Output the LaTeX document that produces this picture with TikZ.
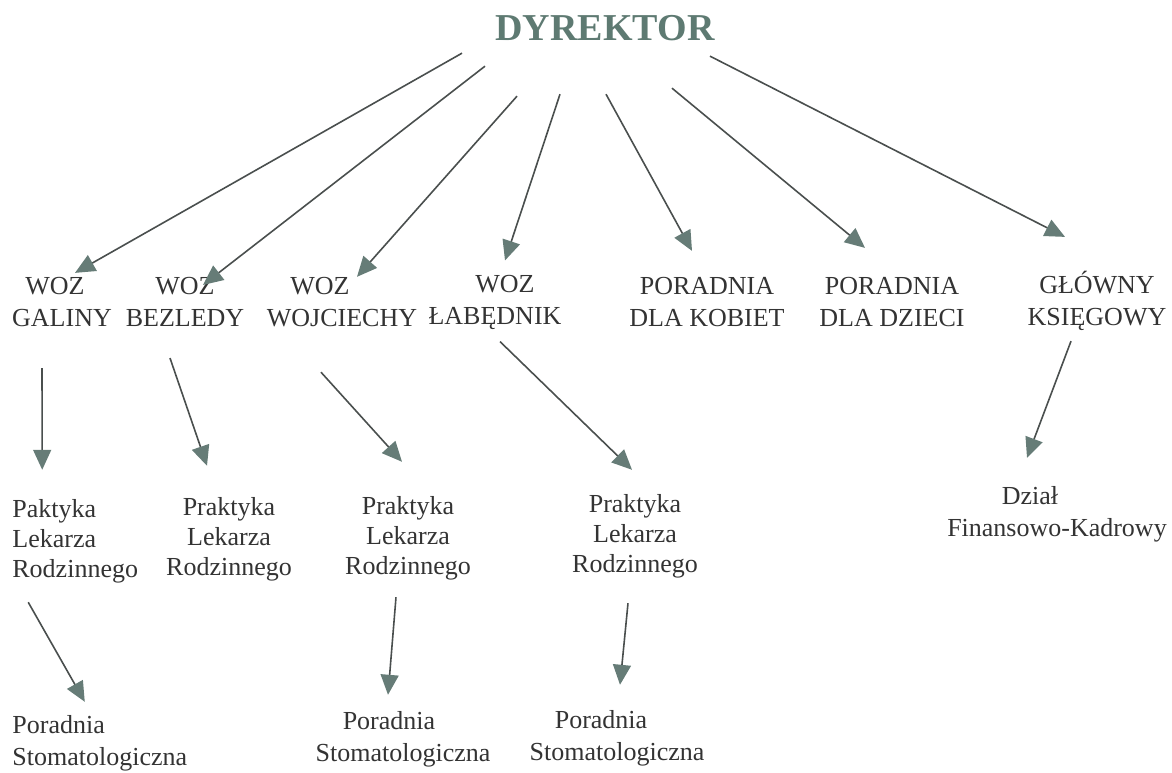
\documentclass[tikz,border=0pt]{standalone}
\usepackage{fontspec}
\setmainfont{Liberation Serif}
\usetikzlibrary{arrows.meta,positioning}
\definecolor{titlegray}{HTML}{5E7A72}
\definecolor{linegray}{HTML}{4A4F4E}
\definecolor{tipgray}{HTML}{667C77}
\definecolor{textgray}{HTML}{333333}
\begin{document}
\begin{tikzpicture}[
  x={(0.5pt,0)},y={(0,-0.5pt)},
  unit/.style={inner sep=0pt,align=center,text=textgray,
    font=\fontsize{13pt}{16pt}\selectfont},
  unitl/.style={unit,align=left,anchor=west},
  prak/.style={unit,font=\fontsize{13pt}{15pt}\selectfont},
  boss/.style={inner sep=0pt,text=titlegray,
    font=\fontsize{19pt}{22pt}\selectfont\bfseries},
  arr/.style={draw=linegray,line width=0.8pt,
    -{Triangle[length=10pt,width=9pt,color=tipgray,fill=tipgray]}}
]
  \useasboundingbox (0,0) rectangle (1172,772);

  \node[boss] (dyr) at (605,28) {DYREKTOR};

  \node[unit] (galiny) at (62,302) {\hbox{WOZ\kern7pt}\\GALINY};
  \node[unit] (bezledy) at (185,302) {WOZ\\BEZLEDY};
  \node[unit] (wojciechy) at (342,302) {\hbox{WOZ\kern22pt}\\WOJCIECHY};
  \node[unit] (labednik) at (495,302) {\hbox{\kern10pt WOZ}\\ŁABĘDNIK};
  \node[unit] (kobiet) at (707,302) {PORADNIA\\DLA KOBIET};
  \node[unit] (dzieci) at (892,302) {PORADNIA\\DLA DZIECI};
  \node[unit] (glowny) at (1097,301) {GŁÓWNY\\KSIĘGOWY};

  \node[prak,align=left,anchor=west] (prak1) at (12,541) {Paktyka\\Lekarza\\Rodzinnego};
  \node[prak] (prak2) at (229,539) {Praktyka\\Lekarza\\Rodzinnego};
  \node[prak] (prak3) at (408,538) {Praktyka\\Lekarza\\Rodzinnego};
  \node[prak] (prak4) at (635,536) {Praktyka\\Lekarza\\Rodzinnego};
  \node[unit] (dzial) at (1057,514) {\hbox{Dział\kern27pt}\\Finansowo-Kadrowy};

  \node[unitl] (stom1) at (12,743) {Poradnia\\Stomatologiczna};
  \node[unit] (stom2) at (403,739) {\hbox{Poradnia\kern14pt}\\Stomatologiczna};
  \node[unit] (stom3) at (617,738) {\hbox{Poradnia\kern16pt}\\Stomatologiczna};

  \draw[arr] ([shift={(-143,12)}]dyr.south) -- ([shift={(13,-4)}]galiny.north);
  \draw[arr] ([shift={(-120,25)}]dyr.south) -- ([shift={(18,8)}]bezledy.north);
  \draw[arr] ([shift={(-88,55)}]dyr.south) -- ([shift={(15,0)}]wojciechy.north);
  \draw[arr] ([shift={(-45,53)}]dyr.south) -- ([shift={(10,-14)}]labednik.north);
  \draw[arr] ([shift={(1,53)}]dyr.south) -- ([shift={(-15,-26)}]kobiet.north);
  \draw[arr] ([shift={(67,47)}]dyr.south) -- ([shift={(-27,-29)}]dzieci.north);
  \draw[arr] ([shift={(105,15)}]dyr.south) -- ([shift={(-32,-34)}]glowny.north);

  \draw[arr] ([shift={(-20,41)}]galiny.south) -- ([shift={(-33,-29)}]prak1.north);
  \draw[arr] ([shift={(-15,31)}]bezledy.south) -- ([shift={(-22,-31)}]prak2.north);
  \draw[arr] ([shift={(-21,45)}]wojciechy.south) -- ([shift={(-6,-34)}]prak3.north);
  \draw[arr] ([shift={(5,12)}]labednik.south) -- ([shift={(-3,-24)}]prak4.north);
  \draw[arr] ([shift={(-26,10)}]glowny.south) -- ([shift={(-30,-28)}]dzial.north);

  \draw[arr] ([shift={(-47,19)}]prak1.south) -- ([shift={(-15,-13)}]stom1.north);
  \draw[arr] ([shift={(-12,17)}]prak3.south) -- ([shift={(-15,-16)}]stom2.north);
  \draw[arr] ([shift={(-7,25)}]prak4.south) -- ([shift={(3,-25)}]stom3.north);
\end{tikzpicture}
\end{document}
